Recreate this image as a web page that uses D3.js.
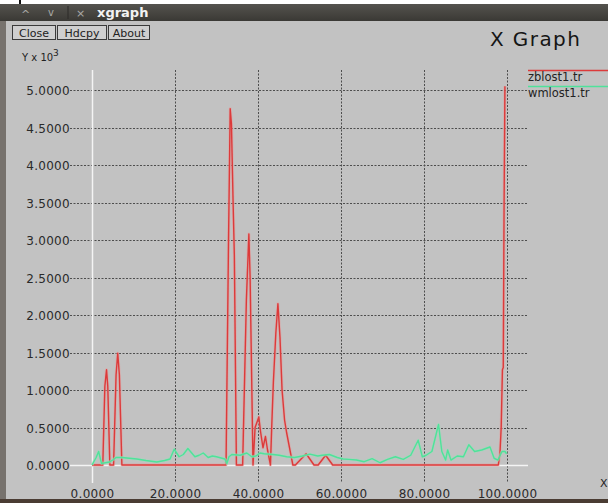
<!DOCTYPE html>
<html>
<head>
<meta charset="utf-8">
<script src="https://cdn.jsdelivr.net/npm/d3@7"></script>
<style>
  html, body { margin: 0; padding: 0; background: #ffffff; }
  svg { display: block; }
  text { font-family: "DejaVu Sans", "Liberation Sans", sans-serif; }
</style>
</head>
<body>
<svg id="chart" width="608" height="503"></svg>
<script>
// Packet loss traces (values in units of 10^3)
const zbX = [0, 2.6, 3.1, 3.5, 3.8, 4.3, 5.2, 5.8, 6.2, 6.6, 7.2,
  32.3, 32.9, 33.3, 33.6, 34.0, 34.3, 34.8,
  36.3, 37.2, 37.8, 38.1, 38.8,
  39.3, 40.2, 40.6, 41.2, 41.8, 42.3, 43.0,
  43.3, 43.7, 44.3, 44.8, 45.3, 45.8, 46.4, 46.9, 47.7, 48.4,
  49.0, 51.6, 53.5, 54.5, 56.3, 58.0,
  97.9, 98.3, 98.6, 98.9, 99.1, 99.3, 99.5];
const zbY = [0, 0, 1.05, 1.27, 1.05, 0, 0, 1.2, 1.49, 1.2, 0,
  0, 3.0, 4.75, 4.55, 3.5, 2.8, 0,
  0, 2.2, 3.08, 2.5, 0,
  0.5, 0.64, 0.45, 0.23, 0.38, 0.2, 0,
  0.5, 1.1, 1.76, 2.15, 1.7, 1.0, 0.6, 0.43, 0.2, 0,
  0, 0.15, 0, 0, 0.13, 0,
  0, 0.15, 0.5, 1.27, 1.3, 3.5, 5.05];

const wmX = [0, 1.0, 1.6, 2.3, 3.2, 4.2, 5.1, 5.8, 7.2, 9.0, 10.8, 13.0, 15.6, 17.5, 18.8,
  19.8, 21.0, 22.0, 23.1, 24.8, 25.8, 26.8, 28.0, 29.0, 30.0, 32.0, 32.5, 33.0, 33.7,
  35.7, 37.3, 38.5, 39.5, 40.5, 41.5, 43.6, 45.1, 46.9, 48.8, 50.7, 52.5, 54.4, 55.5,
  57.2, 59.1, 60.5, 61.9, 63.7, 65.6, 67.5, 69.4, 71.2, 73.1, 75.0, 76.8, 78.6, 79.6,
  80.5, 81.9, 83.5, 84.3, 85.2, 85.7, 86.5, 88.0, 89.5, 90.8, 92.2, 93.9, 95.9, 96.9,
  97.8, 98.8, 99.5, 99.9];
const wmY = [0, 0.1, 0.18, 0.02, 0.03, 0.04, 0.07, 0.1, 0.1, 0.09, 0.08, 0.06, 0.04, 0.06, 0.08,
  0.21, 0.11, 0.14, 0.22, 0.11, 0.13, 0.16, 0.1, 0.12, 0.11, 0.08, 0.02, 0.11, 0.14,
  0.13, 0.16, 0.11, 0.12, 0.16, 0.15, 0.14, 0.13, 0.11, 0.1, 0.12, 0.145, 0.12, 0.13,
  0.14, 0.1, 0.08, 0.075, 0.066, 0.044, 0.084, 0.03, 0.075, 0.11, 0.075, 0.13, 0.33, 0.11,
  0.13, 0.18, 0.54, 0.18, 0.066, 0.2, 0.066, 0.12, 0.11, 0.27, 0.18, 0.2, 0.24, 0.09,
  0.066, 0.18, 0.18, 0.15];

const xTicks = [0, 20, 40, 60, 80, 100];
const yTicks = [0, 0.5, 1, 1.5, 2, 2.5, 3, 3.5, 4, 4.5, 5];
const seriesNames = ["zblost1.tr", "wmlost1.tr"];
const seriesColors = ["#dc3a3a", "#4fe29a"];
const buttons = ["Close", "Hdcpy", "About"];

const svg = d3.select("#chart");
const W = 608, H = 503;

// Window frame
svg.append("rect").attr("x", 0).attr("y", 0).attr("width", W).attr("height", H).attr("fill", "#c2c2c2");
svg.append("rect").attr("x", 0).attr("y", 0).attr("width", W).attr("height", 4).attr("fill", "#ffffff");
svg.append("rect").attr("x", 19).attr("y", 0).attr("width", 2).attr("height", 5).attr("fill", "#111");
const grad = svg.append("defs").append("linearGradient").attr("id", "tb").attr("x1", 0).attr("y1", 0).attr("x2", 0).attr("y2", 1);
grad.append("stop").attr("offset", "0%").attr("stop-color", "#55534e");
grad.append("stop").attr("offset", "100%").attr("stop-color", "#3a3935");
svg.append("rect").attr("x", 0).attr("y", 4).attr("width", W).attr("height", 17).attr("fill", "url(#tb)");
svg.append("rect").attr("x", 0).attr("y", 21).attr("width", 6).attr("height", H - 21).attr("fill", "#77726d");
svg.append("rect").attr("x", 0).attr("y", 499).attr("width", W).attr("height", 4).attr("fill", "#4a3c33");

// Title bar controls
const tbar = svg.append("g");
tbar.append("text").attr("x", 21).attr("y", 18).attr("font-size", 11).attr("fill", "#a9a9a6").text("^");
tbar.append("text").attr("x", 48).attr("y", 16).attr("font-size", 10).attr("fill", "#a9a9a6").text("v");
tbar.append("line").attr("x1", 68).attr("x2", 68).attr("y1", 6).attr("y2", 19).attr("stroke", "#2c2b28");
tbar.append("text").attr("x", 76).attr("y", 17).attr("font-size", 11).attr("fill", "#a9a9a6").text("×");
tbar.append("text").attr("x", 97).attr("y", 17).attr("font-size", 13).attr("font-weight", "bold").attr("fill", "#f2f2f2").text("xgraph");

// Buttons
const bx = [12, 57, 108], bw = [43, 49, 41];
buttons.forEach((b, i) => {
  const g = svg.append("g");
  g.append("rect").attr("x", bx[i] + 0.5).attr("y", 25.5).attr("width", bw[i]).attr("height", 14)
    .attr("fill", "#cfcfcf").attr("stroke", "#3a3a3a");
  g.append("text").attr("x", bx[i] + bw[i] / 2 + 0.5).attr("y", 36.5).attr("text-anchor", "middle")
    .attr("font-size", 11).attr("fill", "#222").text(b);
});

// Titles
svg.append("text").attr("x", 490).attr("y", 46).attr("font-size", 20).attr("letter-spacing", 1.4)
  .attr("fill", "#151515").text("X Graph");
const yl = svg.append("text").attr("x", 22).attr("y", 61).attr("font-size", 10).attr("fill", "#222");
yl.append("tspan").text("Y x 10");
yl.append("tspan").attr("dy", -5).attr("font-size", 9).text("3");
svg.append("text").attr("x", 600).attr("y", 487).attr("font-size", 11).attr("fill", "#222").text("X");

// Scales
const x = d3.scaleLinear().domain([0, 100]).range([92, 507]);
const y = d3.scaleLinear().domain([0, 5]).range([465, 90]);
const gridL = 70, gridR = 528, gridT = 70, gridB = 483;

// Grid lines
const grid = svg.append("g").attr("stroke", "#4d4d4d").attr("stroke-width", 1).attr("stroke-dasharray", "2,1.5");
grid.selectAll("line.h").data(yTicks.filter(v => v > 0)).join("line")
  .attr("x1", gridL).attr("x2", gridR)
  .attr("y1", d => Math.round(y(d)) + 0.5).attr("y2", d => Math.round(y(d)) + 0.5);
grid.selectAll("line.v").data(xTicks.filter(v => v > 0)).join("line")
  .attr("y1", gridT).attr("y2", gridB)
  .attr("x1", d => Math.round(x(d)) + 0.5).attr("x2", d => Math.round(x(d)) + 0.5);

// Zero axes drawn in white
svg.append("line").attr("x1", gridL).attr("x2", gridR).attr("y1", y(0) + 0.5).attr("y2", y(0) + 0.5)
  .attr("stroke", "#f4f4f4").attr("stroke-width", 1.5);
svg.append("line").attr("x1", x(0) + 0.5).attr("x2", x(0) + 0.5).attr("y1", gridT).attr("y2", gridB)
  .attr("stroke", "#f4f4f4").attr("stroke-width", 1.5);

// Tick labels
const fmt = d3.format(".4f");
const yAxis = svg.append("g").attr("transform", "translate(71,0)")
  .call(d3.axisLeft(y).tickValues(yTicks).tickFormat(fmt).tickSize(0).tickPadding(1));
const xAxis = svg.append("g").attr("transform", `translate(0,${gridB})`)
  .call(d3.axisBottom(x).tickValues(xTicks).tickFormat(fmt).tickSize(0).tickPadding(6));
[yAxis, xAxis].forEach(a => {
  a.select(".domain").remove();
  a.selectAll("text").attr("font-family", "DejaVu Sans, sans-serif").attr("font-size", 12)
    .attr("letter-spacing", 0.3).attr("fill", "#2a2a2a");
});
yAxis.selectAll("text").attr("dy", "0.38em");

// Series lines
const line = d3.line().x(d => x(d[0])).y(d => y(d[1]));
const series = [d3.zip(zbX, zbY), d3.zip(wmX, wmY)];
const halo = ["#e89a9a", "#9fdcbc"];
series.forEach((s, i) => {
  svg.append("path").datum(s).attr("d", line).attr("fill", "none")
    .attr("stroke", halo[i]).attr("stroke-width", 3).attr("stroke-opacity", 0.55)
    .attr("stroke-linejoin", "round");
  svg.append("path").datum(s).attr("d", line).attr("fill", "none")
    .attr("stroke", seriesColors[i]).attr("stroke-width", 1.4).attr("stroke-linejoin", "round");
});

// Legend
const legY = [70.5, 86.5];
seriesNames.forEach((n, i) => {
  svg.append("line").attr("x1", gridR).attr("x2", W).attr("y1", legY[i]).attr("y2", legY[i])
    .attr("stroke", seriesColors[i]).attr("stroke-width", 1.5);
  svg.append("text").attr("x", gridR).attr("y", legY[i] + 10.5).attr("font-size", 11.5)
    .attr("fill", "#222").text(n);
});
</script>
</body>
</html>
